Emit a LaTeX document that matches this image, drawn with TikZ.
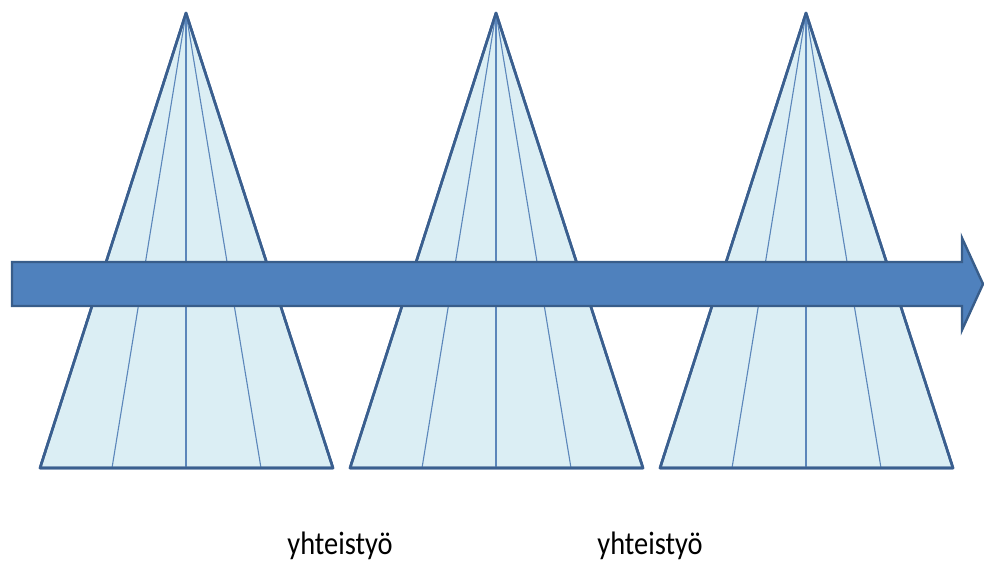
\documentclass[tikz,border=0pt]{standalone}
\usepackage{fontspec}
\setmainfont{Carlito}
\definecolor{conefill}{HTML}{DBEEF4}
\definecolor{coneline}{HTML}{3A5F8F}
\definecolor{innerline}{HTML}{5B86BA}
\definecolor{arrowfill}{HTML}{4F81BD}
\definecolor{arrowline}{HTML}{385D8A}
\begin{document}
\begin{tikzpicture}[x=1pt,y=-1pt,
  cone/.style={fill=conefill,draw=coneline,line width=2.6pt,line join=round},
  rib/.style={draw=innerline,line width=1.1pt},
  bigarrow/.style={fill=arrowfill,draw=arrowline,line width=2.4pt,line join=miter},
  label/.style={font=\fontsize{29}{31}\selectfont,anchor=base,inner sep=0pt}]
\useasboundingbox (0,0) rectangle (984,565);
\foreach \cx/\nm in {186/a,496/b,806/c}{
  \coordinate (\nm top) at (\cx,13);
  \coordinate (\nm L) at (\cx-146,468);
  \coordinate (\nm R) at (\cx+147,468);
  \coordinate (\nm l) at (\cx-74,468);
  \coordinate (\nm m) at (\cx,468);
  \coordinate (\nm r) at (\cx+75,468);
  \path[cone] (\nm top) -- (\nm R) -- (\nm L) -- cycle;
  \draw[rib] (\nm top) -- (\nm l);
  \draw[rib] (\nm top) -- (\nm m);
  \draw[rib] (\nm top) -- (\nm r);
  \path[draw=coneline,line width=2.6pt,line join=round] (\nm top) -- (\nm R) -- (\nm L) -- cycle;
}
\path[bigarrow] (12,262) -- (962,262) -- (962,238) -- (983,284) -- (962,330) -- (962,306) -- (12,306) -- cycle;
\begin{scope}[shift={(340,554)},yscale=1.12,xscale=0.98]
\node[label,transform shape] (t1) at (0,0) {yhteistyö};
\end{scope}
\begin{scope}[shift={(650,554)},yscale=1.12,xscale=0.98]
\node[label,transform shape] (t2) at (0,0) {yhteistyö};
\end{scope}
\end{tikzpicture}
\end{document}
